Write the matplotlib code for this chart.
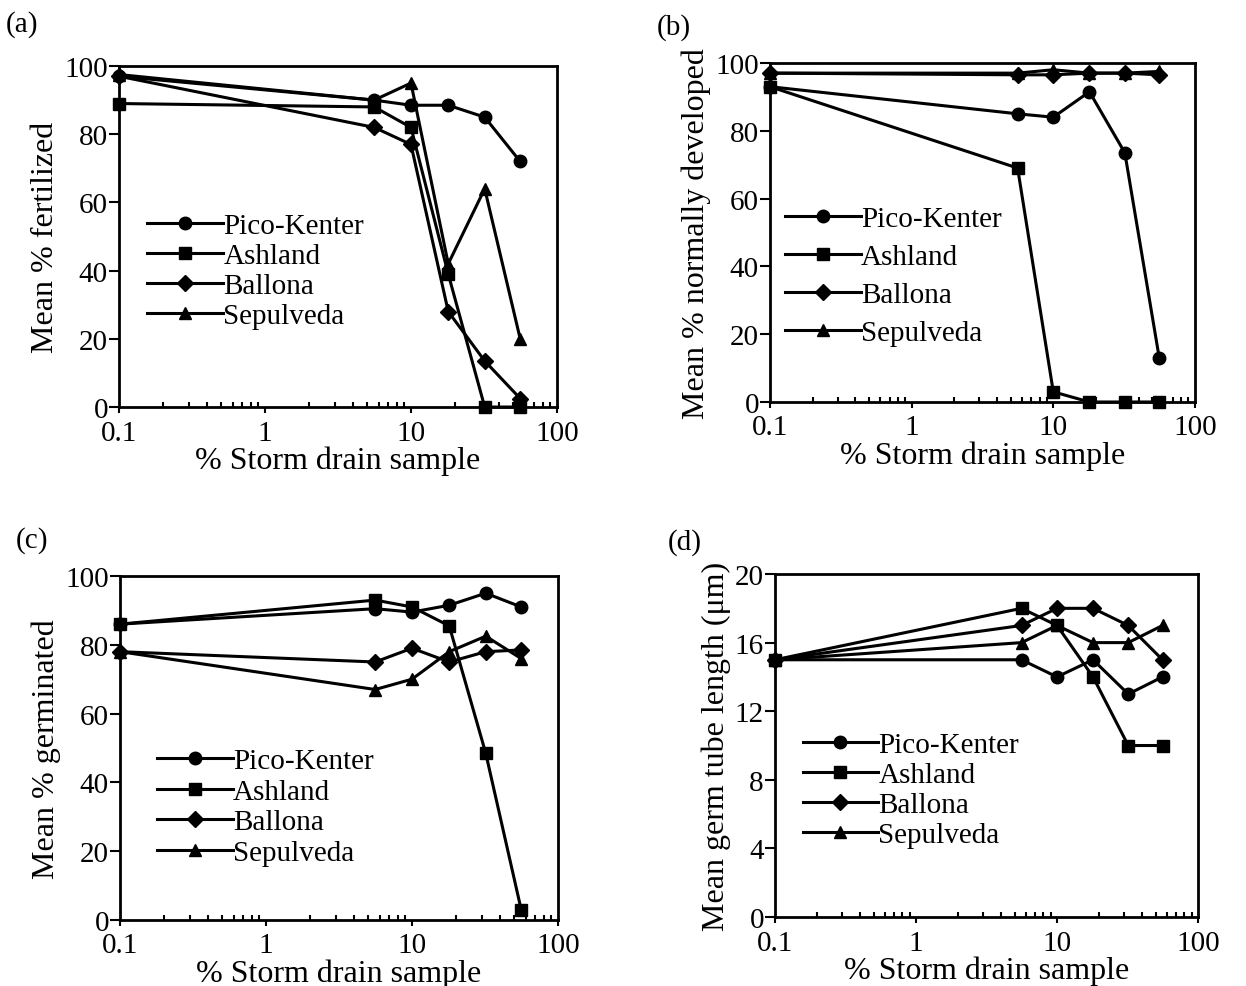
import numpy as np
import matplotlib
matplotlib.use('Agg')
import matplotlib.pyplot as plt
from matplotlib.ticker import LogLocator, FixedLocator, NullFormatter

plt.rcParams['font.family'] = ['Liberation Serif', 'DejaVu Serif']

# % storm drain sample
x = [0.1, 5.6, 10, 18, 32, 56]
sites = ['Pico-Kenter', 'Ashland', 'Ballona', 'Sepulveda']
markers = ['o', 's', 'D', '^']

# (a) mean % fertilized
fert_pico = [97, 90, 88.5, 88.5, 85, 72]
fert_ash = [89, 88, 82, 39, 0, 0]
fert_bal = [97, 82, 77, 28, 13.5, 2.5]
fert_sep = [97.5, 90, 95, 42, 64, 20]

# (b) mean % normally developed
dev_pico = [93, 85, 84, 91.5, 73.5, 13]
dev_ash = [93, 69, 3, 0, 0, 0]
dev_bal = [97, 96.5, 96.5, 97, 97, 96.5]
dev_sep = [97, 97, 98, 97, 97, 97.5]

# (c) mean % germinated
germ_pico = [86, 90.5, 89.5, 91.5, 95, 91]
germ_ash = [86, 93, 91, 85.5, 48.5, 3]
germ_bal = [78, 75, 79, 75, 78, 78.5]
germ_sep = [78, 67, 70, 78, 82.5, 76]

# (d) mean germ tube length (um)
tube_pico = [15, 15, 14, 15, 13, 14]
tube_ash = [15, 18, 17, 14, 10, 10]
tube_bal = [15, 17, 18, 18, 17, 15]
tube_sep = [15, 16, 17, 16, 16, 17]

panels = [
    ('(a)', [fert_pico, fert_ash, fert_bal, fert_sep], 'Mean % fertilized', [0, 100], [0, 20, 40, 60, 80, 100]),
    ('(b)', [dev_pico, dev_ash, dev_bal, dev_sep], 'Mean % normally developed', [0, 100], [0, 20, 40, 60, 80, 100]),
    ('(c)', [germ_pico, germ_ash, germ_bal, germ_sep], 'Mean % germinated', [0, 100], [0, 20, 40, 60, 80, 100]),
    ('(d)', [tube_pico, tube_ash, tube_bal, tube_sep], 'Mean germ tube length (μm)', [0, 20], [0, 4, 8, 12, 16, 20]),
]

# axes rectangles in figure fractions
rects = [
    [0.0955, 0.5866, 0.3515, 0.3455],
    [0.618, 0.5917, 0.341, 0.3435],
    [0.0963, 0.0669, 0.3515, 0.3485],
    [0.622, 0.0699, 0.3395, 0.3475],
]
legend_pos = [(0.065, 0.57), (0.035, 0.58), (0.085, 0.50), (0.065, 0.54)]
legend_sp = [0.12, 0.40, 0.14, 0.12]
label_pos = [(0.005, 0.975), (0.527, 0.972), (0.013, 0.452), (0.536, 0.45)]

fig = plt.figure(figsize=(12.46, 9.87), dpi=100)

for i, (tag, series, ylab, ylim, yticks) in enumerate(panels):
    ax = fig.add_axes(rects[i])
    for s, name, m in zip(series, sites, markers):
        ms = 8 if m == 'D' else 9
        ax.plot(x, s, color='black', lw=2.2, marker=m, ms=ms, label=name, clip_on=False)
    ax.set_xscale('log')
    ax.set_xlim(0.1, 100)
    ax.set_ylim(*ylim)
    ax.set_yticks(yticks)
    ax.xaxis.set_major_locator(FixedLocator([0.1, 1, 10, 100]))
    ax.set_xticklabels(['0.1', '1', '10', '100'])
    ax.xaxis.set_minor_locator(LogLocator(base=10, subs=np.arange(2, 10)))
    ax.xaxis.set_minor_formatter(NullFormatter())
    ax.tick_params(axis='x', which='major', direction='out', length=4, width=1.5, labelsize=21, pad=5)
    ax.tick_params(axis='x', which='minor', direction='in', length=3.5, width=1.5)
    ax.tick_params(axis='y', which='major', direction='out', length=7, width=1.5, labelsize=21, pad=1)
    for sp in ax.spines.values():
        sp.set_linewidth(2)
    ax.set_xlabel('% Storm drain sample', fontsize=23, labelpad=0)
    ax.set_ylabel(ylab, fontsize=23, labelpad=3)
    ax.legend(loc='upper left', bbox_to_anchor=legend_pos[i], frameon=False,
              fontsize=21, handlelength=2.6, handletextpad=0.0,
              labelspacing=legend_sp[i], borderpad=0, borderaxespad=0)
    fig.text(label_pos[i][0], label_pos[i][1], tag, fontsize=21, ha='left', va='center')

fig.savefig('out.png', dpi=100)
